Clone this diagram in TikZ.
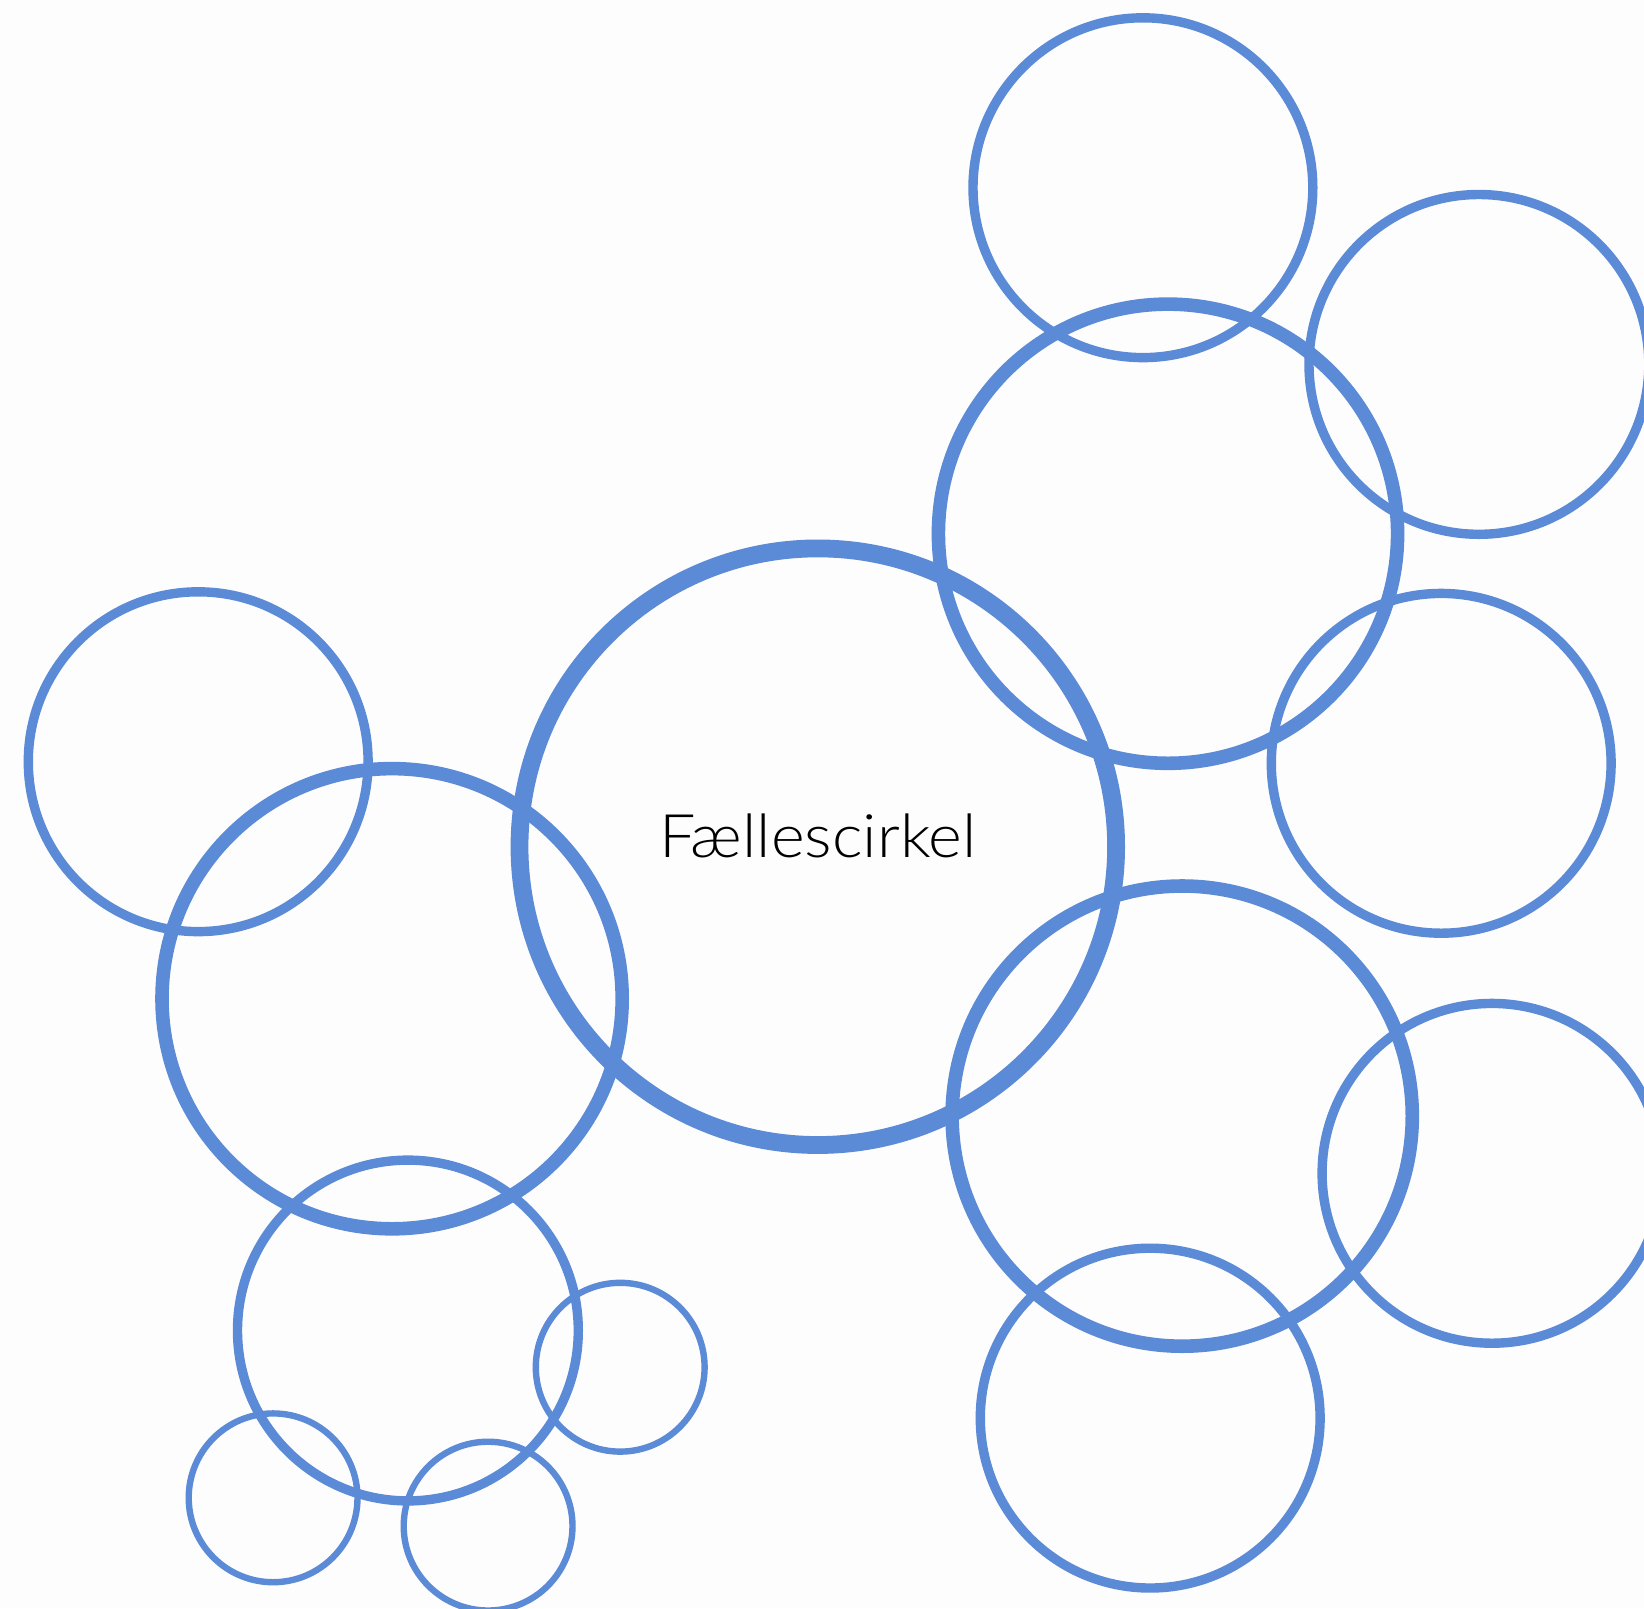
\documentclass[tikz,border=0pt]{standalone}
\usepackage{fontspec}
\setmainfont{Lato Light}
\definecolor{ringblue}{HTML}{5B8BD6}
\definecolor{bgwhite}{HTML}{FEFDFE}
\begin{document}
\begin{tikzpicture}[x=0.5pt,y=-0.5pt,
  ringxl/.style={draw=ringblue,line width=8.9pt},
  ringl/.style={draw=ringblue,line width=6.8pt},
  ringm/.style={draw=ringblue,line width=4.7pt},
  rings/.style={draw=ringblue,line width=3.2pt}]
\fill[bgwhite] (0,0) rectangle (1644,1608);
\useasboundingbox (0,0) rectangle (1644,1608);
\clip (0,0) rectangle (1644,1608);
\node[ringxl,circle,minimum size=596.6*0.5pt,inner sep=0pt,outer sep=0pt] (c0) at (817.8,846.7) {};
\node[ringl,circle,minimum size=459.2*0.5pt,inner sep=0pt] (c1) at (1168,533.7) {};
\node[ringl,circle,minimum size=460.2*0.5pt,inner sep=0pt] (c2) at (1182.2,1116.1) {};
\node[ringl,circle,minimum size=460.2*0.5pt,inner sep=0pt] (c3) at (392.1,998.7) {};
\node[ringm,circle,minimum size=339.8*0.5pt,inner sep=0pt] (c4) at (1142.9,187.7) {};
\node[ringm,circle,minimum size=339.8*0.5pt,inner sep=0pt] (c5) at (1478.9,364.4) {};
\node[ringm,circle,minimum size=339.8*0.5pt,inner sep=0pt] (c6) at (1441.2,763.3) {};
\node[ringm,circle,minimum size=339.8*0.5pt,inner sep=0pt] (c7) at (1492.0,1173.3) {};
\node[ringm,circle,minimum size=339.8*0.5pt,inner sep=0pt] (c8) at (1150.2,1418.1) {};
\node[ringm,circle,minimum size=339.8*0.5pt,inner sep=0pt] (c9) at (198.2,761.7) {};
\node[ringm,circle,minimum size=340.8*0.5pt,inner sep=0pt] (c10) at (407.9,1330.5) {};
\node[rings,circle,minimum size=168.8*0.5pt,inner sep=0pt] (c11) at (620.2,1367.2) {};
\node[rings,circle,minimum size=168.8*0.5pt,inner sep=0pt] (c12) at (273.1,1497.8) {};
\node[rings,circle,minimum size=168.8*0.5pt,inner sep=0pt] (c13) at (488.1,1526.1) {};
\node[inner sep=0pt,font=\fontsize{30}{36}\selectfont] (label) at (817.8,835.7) {\scalebox{1.077}[1]{Fællescirkel}};
\end{tikzpicture}
\end{document}
